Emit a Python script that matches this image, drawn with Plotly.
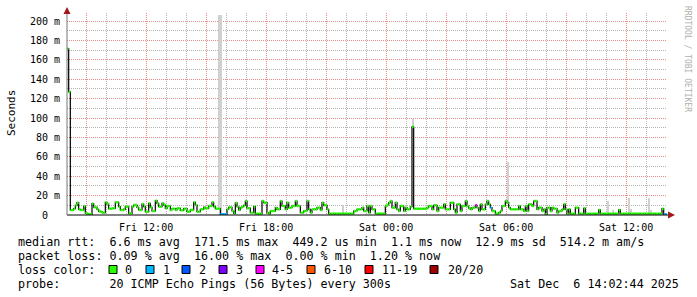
import plotly.graph_objects as go
import pandas as pd

# ---------------- data ----------------
START = "2025-12-05 08:02:44"
END = "2025-12-06 14:02:44"
STEP = "5min"

# median rtt per 5-minute step, in milliseconds
median_ms = [
    171.5, 127, 5, 5.2, 6.5, 10, 12.7, 5.8, 5.2, 5.2, 9, 2,
    1, 0.7, 0.7, 11.7, 8, 8, 5.8, 3.8, 3.4, 2.4, 2.4, 13.1,
    11.3, 6.5, 6.5, 6.9, 6.9, 13, 13, 8.6, 5.2, 5.2, 5.8, 8.6,
    8.6, 1.7, 1.7, 8.6, 10.3, 10.3, 7.9, 5.2, 5.2, 11.3, 8.6, 3.4,
    3.4, 12, 7.9, 4.1, 4.1, 14.8, 12, 8.6, 8.6, 12, 10.3, 6.9,
    9.3, 9.3, 5.2, 6.5, 6.5, 5.2, 6.9, 6.9, 4.8, 4.8, 6.5, 6.5,
    3.4, 3.4, 5.2, 5.2, 13.1, 10.3, 3.4, 3.4, 5.8, 5.8, 7.9, 6.9,
    6.9, 9.3, 9.3, 13, 8.6, 6.5, 6.5, 6.5, 0.7, 0.7, 0.7, 0.7,
    5.8, 7.9, 7.9, 4.1, 1.7, 12.4, 8.6, 5.2, 7.6, 8.6, 10, 14.4,
    7, 7, 2.4, 2.4, 8.6, 1.4, 1.4, 1.4, 1.4, 14.4, 12.7, 12.7,
    2.4, 1.4, 4.1, 4.1, 4.1, 7.6, 5.8, 5.8, 14.4, 9.3, 9.3, 5.8,
    12.7, 7.6, 7.6, 9.3, 9.3, 14.4, 9.3, 9.3, 2.4, 2.4, 4.1, 4.1,
    14.4, 5.8, 2.4, 5.8, 5.8, 5.8, 7.6, 7.6, 5.2, 12.7, 10, 10,
    5.8, 1.4, 1.4, 1.4, 1.4, 1.4, 1.4, 1.4, 1.4, 1.4, 1.4, 1.4,
    1.4, 1.4, 1.4, 1.4, 4.1, 4.1, 5.8, 5.8, 5.8, 7.6, 4.1, 4.1,
    9.3, 2.4, 9.3, 5.8, 5.8, 1.4, 1.4, 1.4, 1.4, 1.4, 1.4, 9.3,
    10.3, 12.7, 14.4, 7.6, 7.6, 12.7, 5.8, 4.1, 9.3, 9.3, 4.1, 7.6,
    5.8, 5.8, 8.6, 91, 6.5, 6.5, 6.5, 6.5, 6.5, 6.5, 6.5, 6.5,
    7.6, 9.3, 9.3, 5.8, 10, 10, 4.1, 7.6, 7.6, 7.6, 11, 5.8,
    5.8, 5.8, 12.7, 12.7, 5.8, 2.4, 11, 11, 4.1, 9.3, 9.3, 14.4,
    9.3, 7, 5.8, 7.6, 7.6, 10, 7.6, 4.1, 11, 5.8, 5.8, 11,
    14.4, 11, 7.6, 4.1, 4.1, 1.4, 1.4, 2.4, 4.1, 9.3, 9.3, 14.4,
    12.7, 7.6, 5.8, 5.8, 5.8, 5.8, 5.8, 9.3, 5.8, 5.8, 4.1, 9.3,
    4.1, 11, 11, 9.3, 14.4, 14.4, 5.8, 7.6, 7.6, 4.1, 5.8, 0.7,
    7.6, 7.6, 4.1, 7.6, 6.5, 6.5, 2.4, 4.1, 4.1, 5.8, 11, 5.8,
    1.4, 5.8, 1.4, 1.4, 1.4, 7.6, 7.6, 1.4, 1.4, 1.4, 6.9, 1.4,
    1.4, 1.4, 1.4, 1.4, 1.4, 1.4, 1.4, 5.2, 1.4, 1.4, 1.4, 1.4,
    1.4, 1.4, 1.4, 1.4, 1.4, 1.4, 1.4, 5.2, 1.4, 1.4, 1.4, 1.4,
    1.4, 1.4, 1.4, 1.4, 1.4, 1.4, 1.4, 1.4, 1.4, 1.4, 1.4, 1.4,
    1.4, 1.4, 1.4, 1.4, 1.4, 1.4, 1.4, 1.4, 1.4, 6.5, 0.7, 0.7,
]

# packet loss (pings lost of 20) at the steps where it was not zero
loss_step = [92, 93, 94, 95, 245, 254, 358, 359]
loss_count = [1, 1, 1, 1, 4, 1, 1, 1]

# light "smoke" (outlier pings) tops, in ms
smoke_step = [91, 92, 165, 207, 264, 324, 327, 337, 338, 349, 350]
smoke_top_ms = [206, 206, 10, 99, 55, 14.7, 5, 17.9, 6, 17.9, 5]

loss_labels = ["0", "1", "2", "3", "4-5", "6-10", "11-19", "20/20"]
loss_colors = ["#26ff00", "#00b8ff", "#0059ff", "#7e00ff", "#ff00ff",
               "#ff5500", "#ff0000", "#a10000"]

y_tick_vals = [0, 20, 40, 60, 80, 100, 120, 140, 160, 180, 200]
y_tick_text = ["0\u00a0\u00a0", "20 m", "40 m", "60 m", "80 m", "100 m",
               "120 m", "140 m", "160 m", "180 m", "200 m"]
x_tick_vals = ["2025-12-05 09:00", "2025-12-05 12:00", "2025-12-05 15:00",
               "2025-12-05 18:00", "2025-12-05 21:00", "2025-12-06 00:00",
               "2025-12-06 03:00", "2025-12-06 06:00", "2025-12-06 09:00",
               "2025-12-06 12:00"]
x_tick_text = ["", "Fri 12:00", "", "Fri 18:00", "", "Sat 00:00", "",
               "Sat 06:00", "", "Sat 12:00"]

legend_lines = [
    "median rtt:  6.6 ms avg  171.5 ms max  449.2 us min  1.1 ms now  12.9 ms sd  514.2 m am/s",
    "packet loss: 0.09 % avg  16.00 % max  0.00 % min  1.20 % now",
    "loss color:",
    "probe:       20 ICMP Echo Pings (56 Bytes) every 300s",
]
stamp = "Sat Dec  6 14:02:44 2025"

# ---------------- figure ----------------
W, H = 697, 297
PL, PR, PT, PB = 67, 667, 13, 215  # plot area in pixels
MONO = "DejaVu Sans Mono"


def xp(px):
    return (px - PL) / (PR - PL)


def yp(py):
    return (PB - py) / (PB - PT)


N = len(median_ms)
times = pd.date_range(START, periods=N + 1, freq=STEP)
loss = [0] * N
for s, c in zip(loss_step, loss_count):
    loss[s] = c


def bucket(c):
    if c <= 3:
        return c
    if c <= 5:
        return 4
    if c <= 10:
        return 5
    if c <= 19:
        return 6
    return 7


fig = go.Figure()

# smoke bars
half = pd.Timedelta(STEP) / 2
fig.add_trace(go.Bar(
    x=[times[s] + half for s in smoke_step],
    base=[median_ms[s] for s in smoke_step],
    y=[t - median_ms[s] for s, t in zip(smoke_step, smoke_top_ms)],
    width=300000, marker=dict(color="#d0d0d0", line=dict(width=0)),
    hoverinfo="skip", showlegend=False))

# black step line
fig.add_trace(go.Scatter(
    x=list(times), y=median_ms + [median_ms[-1]], mode="lines",
    line=dict(color="black", width=1.2, shape="hv"),
    hoverinfo="skip", showlegend=False))

# coloured median segments
for b, col in enumerate(loss_colors):
    xs, ys = [], []
    for i in range(N):
        if bucket(loss[i]) == b:
            xs += [times[i], times[i + 1], None]
            ys += [median_ms[i], median_ms[i], None]
    if xs:
        fig.add_trace(go.Scatter(
            x=xs, y=ys, mode="lines", line=dict(color=col, width=2.4),
            hoverinfo="skip", showlegend=False))

major = "rgba(240,130,130,0.85)"
minor = "rgba(160,160,160,0.8)"

fig.update_layout(
    width=W, height=H, margin=dict(l=PL, r=W - PR, t=PT, b=H - PB),
    paper_bgcolor="white", plot_bgcolor="white",
    font=dict(family=MONO, size=10, color="black"),
    bargap=0,
    xaxis=dict(
        type="date", range=[START, END], tickmode="array",
        tickvals=x_tick_vals, ticktext=x_tick_text,
        showgrid=True, gridcolor=major, griddash="1px,1px", gridwidth=1,
        minor=dict(dtick=3600000, tick0="2025-12-05 00:00", showgrid=True,
                   gridcolor=minor, griddash="1px,1px", gridwidth=1),
        showline=False, zeroline=False, ticks="outside", ticklen=3,
        tickcolor="rgba(0,0,0,0)", tickfont=dict(family=MONO, size=10),
    ),
    yaxis=dict(
        range=[0, (PB - PT) / 0.97], tickmode="array",
        tickvals=y_tick_vals, ticktext=y_tick_text,
        showgrid=True, gridcolor=major, griddash="1px,1px", gridwidth=1,
        minor=dict(dtick=10, tick0=0, showgrid=True, gridcolor=minor,
                   griddash="1px,1px", gridwidth=1),
        showline=False, zeroline=False, ticks="outside", ticklen=4,
        tickcolor="rgba(0,0,0,0)", tickfont=dict(family=MONO, size=10),
    ),
)

shapes = []
# axes
shapes.append(dict(type="line", xref="paper", yref="paper", x0=0, x1=xp(669),
                   y0=0, y1=0, line=dict(color="black", width=1)))
shapes.append(dict(type="line", xref="paper", yref="paper", x0=0, x1=0,
                   y0=0, y1=yp(11), line=dict(color="#777777", width=1)))
# arrows
shapes.append(dict(type="path", xref="paper", yref="paper",
                   path=f"M {xp(668)} {yp(211.5)} L {xp(675)} {yp(215)} L {xp(668)} {yp(218.5)} Z",
                   fillcolor="#a01818", line=dict(width=0)))
shapes.append(dict(type="path", xref="paper", yref="paper",
                   path=f"M {xp(63.5)} {yp(14)} L {xp(67)} {yp(7)} L {xp(70.5)} {yp(14)} Z",
                   fillcolor="#a01818", line=dict(width=0)))

# loss colour boxes
box_left = [109, 146, 182, 219, 256, 307, 365, 430]
text_left = [123, 161, 197, 234, 270, 322, 380, 446]
for bl, col in zip(box_left, loss_colors):
    shapes.append(dict(type="rect", xref="paper", yref="paper",
                       x0=xp(bl), x1=xp(bl + 8), y0=yp(273.5), y1=yp(265.5),
                       fillcolor=col, line=dict(color="black", width=1)))
fig.update_layout(shapes=shapes)

ann = []
line_y = [241.8, 255.6, 269.5, 283.5]
for txt, y in zip(legend_lines, line_y):
    ann.append(dict(x=xp(16), y=yp(y), xref="paper", yref="paper",
                    text=txt.replace(" ", "\u00a0"), showarrow=False,
                    xanchor="left", yanchor="middle",
                    font=dict(family=MONO, size=11.7, color="black")))
for tl, lab in zip(text_left, loss_labels):
    ann.append(dict(x=xp(tl), y=yp(269.5), xref="paper", yref="paper",
                    text=lab, showarrow=False, xanchor="left",
                    yanchor="middle",
                    font=dict(family=MONO, size=11.7, color="black")))
ann.append(dict(x=xp(681), y=yp(283.5), xref="paper", yref="paper",
                text=stamp.replace(" ", "\u00a0"), showarrow=False,
                xanchor="right", yanchor="middle",
                font=dict(family=MONO, size=11.7, color="black")))
ann.append(dict(x=xp(11), y=yp(113), xref="paper", yref="paper",
                text="Seconds", showarrow=False, textangle=-90,
                xanchor="center", yanchor="middle",
                font=dict(family=MONO, size=11, color="black")))
ann.append(dict(x=xp(687), y=yp(59), xref="paper", yref="paper",
                text="RRDTOOL / TOBI OETIKER".replace(" ", "\u00a0"),
                showarrow=False, textangle=90,
                xanchor="center", yanchor="middle",
                font=dict(family=MONO, size=8, color="#b0b0b0")))
fig.update_layout(annotations=ann)

fig.write_html("out.html")
